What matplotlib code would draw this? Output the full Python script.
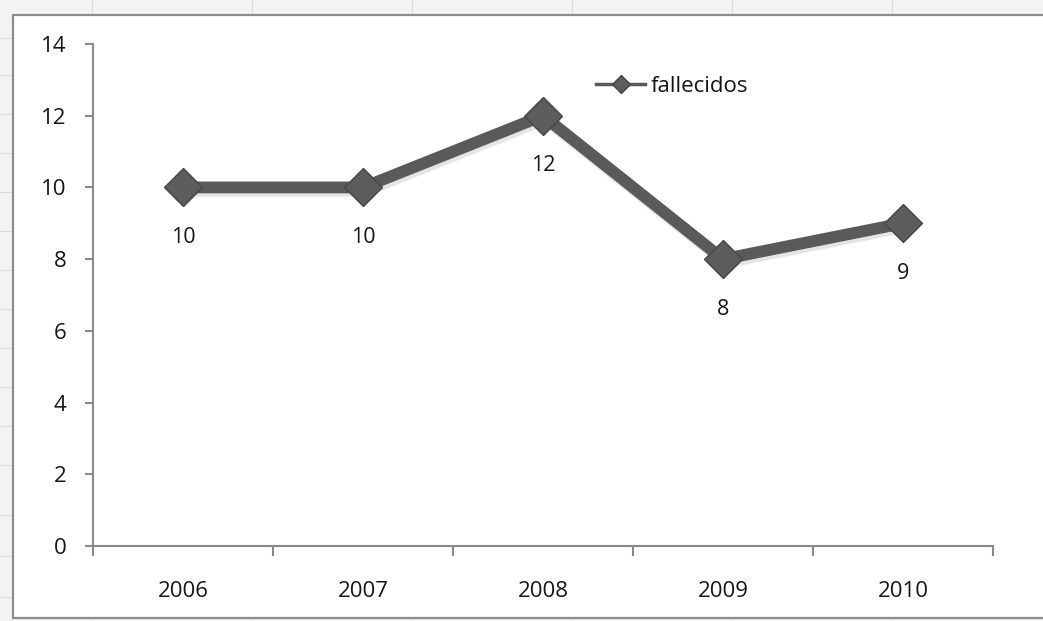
import matplotlib.pyplot as plt
from matplotlib.patches import Rectangle
import matplotlib.patheffects as pe

years = ['2006', '2007', '2008', '2009', '2010']
fallecidos = [10, 10, 12, 8, 9]
y_ticks = [0, 2, 4, 6, 8, 10, 12, 14]

plt.rcParams['font.family'] = ['Open Sans', 'DejaVu Sans']
text_col = '#161616'
axis_col = '#8a8a8a'
line_col = '#5a5a5a'

fig = plt.figure(figsize=(10.43, 6.21), dpi=100)
fig.patch.set_facecolor('#f3f3f3')

W, H = 1043, 621
# faint spreadsheet grid behind the chart object
for gx in [92, 252, 412, 572, 732, 892]:
    fig.add_artist(plt.Line2D([gx / W, gx / W], [1, 0], transform=fig.transFigure,
                              color='#dcdcdc', lw=0.8, zorder=0))
for gy in [38, 75, 114, 153, 192, 231, 270, 309, 348, 387, 426, 465, 515, 556, 597]:
    fig.add_artist(plt.Line2D([0, 1], [1 - gy / H, 1 - gy / H], transform=fig.transFigure,
                              color='#dcdcdc', lw=0.8, zorder=0))
# chart area
fig.add_artist(Rectangle((13 / W, 1 - 618 / H), 1.1, (618 - 15) / H,
                         transform=fig.transFigure, facecolor='white',
                         edgecolor='#8c8c8c', lw=1.6, zorder=1))

ax = fig.add_axes([93 / W, 1 - 546 / H, 900 / W, 502 / H])
ax.set_zorder(2)
ax.patch.set_alpha(0)

x = range(len(years))
shadow = [pe.SimpleLineShadow(offset=(1.5, -2.5), shadow_color='#aaaaaa', alpha=0.3), pe.Normal()]
ax.plot(x, fallecidos, color=line_col, lw=8.5, solid_capstyle='butt',
        path_effects=shadow, zorder=3)
ax.plot(x, fallecidos, linestyle='none', marker='D', markersize=19,
        markerfacecolor='#5c5c5c', markeredgecolor='#474747', markeredgewidth=1,
        zorder=4)

for xi, v in zip(x, fallecidos):
    ax.annotate(str(v), (xi, v), xytext=(0, -36), textcoords='offset points',
                ha='center', va='center', fontsize=15.5, color=text_col)

ax.set_xlim(-0.5, len(years) - 0.5)
ax.set_ylim(0, 14)
ax.set_yticks(y_ticks)
ax.set_xticks(list(x))
ax.set_xticklabels(years)
ax.set_xticks([i - 0.5 for i in range(len(years) + 1)], minor=True)

for s in ['top', 'right']:
    ax.spines[s].set_visible(False)
for s in ['left', 'bottom']:
    ax.spines[s].set_color(axis_col)
    ax.spines[s].set_linewidth(1.5)

ax.tick_params(axis='y', direction='out', length=6, width=1.5, color=axis_col,
               labelsize=16, labelcolor=text_col, pad=13)
ax.tick_params(axis='x', which='major', length=0, labelsize=16,
               labelcolor=text_col, pad=25)
ax.tick_params(axis='x', which='minor', direction='out', length=7, width=1.5,
               color=axis_col)

# legend: line with diamond, no frame
leg_handle, = ax.plot([], [], color=line_col, lw=2.5, marker='D', markersize=9,
                      markerfacecolor='#5c5c5c', markeredgecolor='#474747')
ax.legend([leg_handle], ['fallecidos'], loc='center left',
          bbox_to_anchor=(0.547, 0.915), frameon=False, fontsize=16,
          handlelength=2.2, handletextpad=0.25, borderpad=0, labelcolor=text_col)

fig.savefig('out.png', dpi=100, facecolor=fig.get_facecolor())
